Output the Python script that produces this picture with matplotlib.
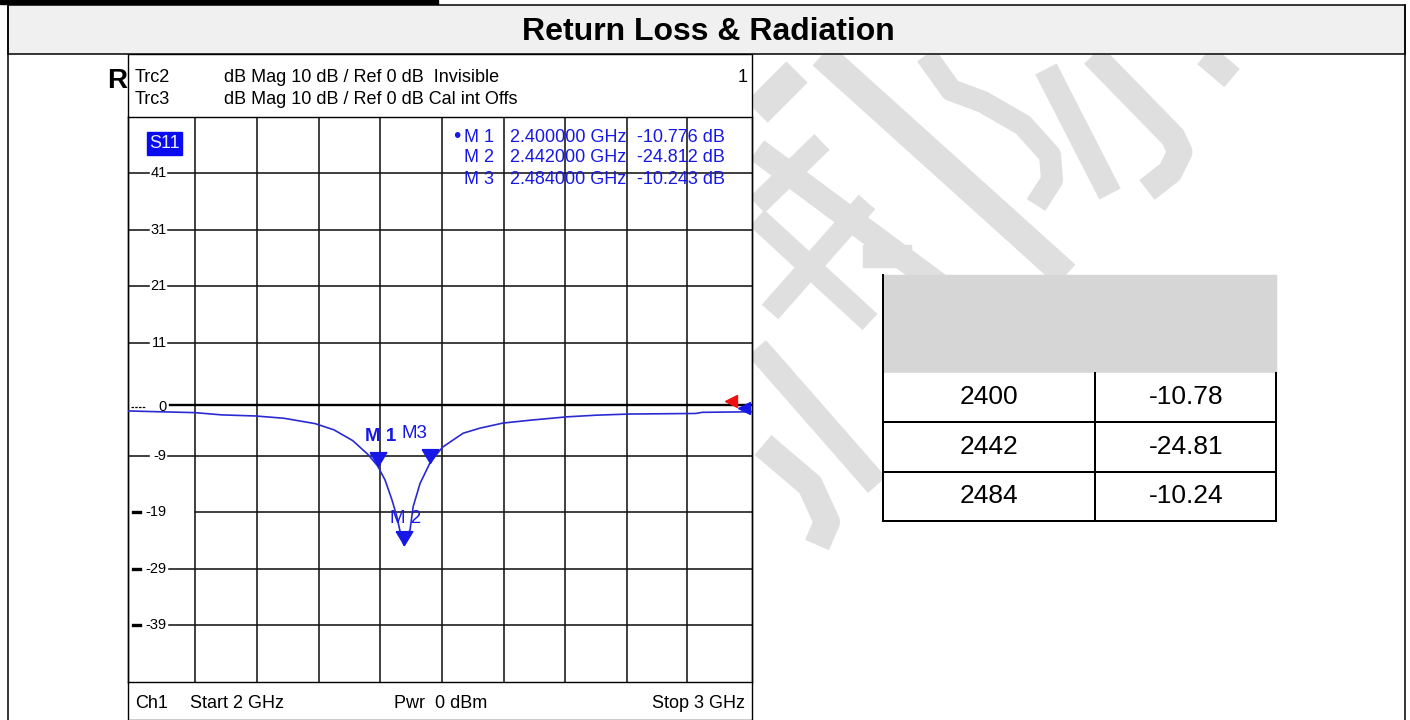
import matplotlib
matplotlib.use("Agg")
import matplotlib.pyplot as plt
from matplotlib.path import Path
from matplotlib.patches import Rectangle

plt.rcParams['font.family'] = ['Liberation Sans', 'DejaVu Sans']

# S11 trace (GHz, dB)
freq_ghz = [2.000, 2.050, 2.107, 2.150, 2.205, 2.250, 2.300, 2.330, 2.360, 2.385,
            2.400, 2.412, 2.423, 2.431, 2.436, 2.442, 2.446, 2.452, 2.457, 2.468,
            2.484, 2.500, 2.505, 2.537, 2.564, 2.601, 2.644, 2.703, 2.751, 2.804,
            2.910, 2.920, 3.000]
s11_db = [-1.05, -1.2, -1.35, -1.75, -1.95, -2.35, -3.3, -4.4, -6.3, -8.8,
          -10.78, -13.3, -16.8, -19.8, -22.4, -24.81, -23.8, -22.1, -18.0, -13.9,
          -10.24, -8.0, -7.4, -5.0, -4.1, -3.2, -2.7, -2.1, -1.8, -1.6,
          -1.5, -1.3, -1.2]

marker_names = ['M 1', 'M 2', 'M 3']
marker_tags = ['M 1', 'M 2', 'M3']
marker_ghz = [2.400, 2.442, 2.484]
marker_db = [-10.776, -24.812, -10.243]

table_mhz = ['2400', '2442', '2484']
table_db = ['-10.78', '-24.81', '-10.24']

grid_db = [41, 31, 21, 11, -9, -19, -29, -39]
vgrid_ghz = [2.108, 2.206, 2.306, 2.404, 2.503, 2.602, 2.700, 2.800, 2.896]

BLUE = '#1717e6'
WM = '#dfdfdf'
PX = 72 / 100.0   # points per pixel

fig = plt.figure(figsize=(14.1, 7.2), dpi=100)
fig.patch.set_facecolor('white')

# page layer in pixel units
bg = fig.add_axes([0, 0, 1, 1])
bg.set_xlim(0, 1410)
bg.set_ylim(720, 0)
bg.axis('off')

# watermark strokes (rough copy of the logo behind the report)
clip = Rectangle((753, 55), 651, 665, transform=bg.transData)
strokes = [
    ([822, 1066], [55, 275], 28),
    ([757, 797], [112, 72], 30),
    ([757, 1000], [150, 330], 24),
    ([822, 757], [142, 205], 22),
    ([867, 770], [202, 312], 22),
    ([757, 870], [218, 322], 22),
    ([757, 877], [348, 485], 24),
    ([763, 810, 827, 817], [445, 485, 522, 545], 26),
    ([926, 951, 983, 1023, 1050, 1052, 1036], [55, 90, 102, 125, 155, 180, 205], 22),
    ([1046, 1110], [69, 194], 24),
    ([1093, 1173, 1180, 1170, 1147], [55, 137, 152, 172, 190], 25),
    ([1205, 1232], [55, 78], 24),
]
for xs, ys, w in strokes:
    ln, = bg.plot(xs, ys, color=WM, lw=w * PX, solid_capstyle='butt',
                  solid_joinstyle='round', zorder=1)
    ln.set_clip_path(clip)
bg.add_patch(Rectangle((863, 245), 48, 22, color=WM, zorder=1, clip_path=clip))

# frame, title band and panel
bg.add_patch(Rectangle((0, 0), 438, 3.5, color='black', zorder=5))
bg.add_patch(Rectangle((8, 4.5), 1397, 49.5, facecolor='#f0f0f0',
                       edgecolor='black', lw=1.1, zorder=5))
bg.plot([8, 8], [4.5, 720], color='black', lw=1.1, zorder=5)
bg.plot([1405, 1405], [4.5, 720], color='black', lw=1.1, zorder=5)
bg.add_patch(Rectangle((128, 54), 624, 666, facecolor='white',
                       edgecolor='black', lw=1.0, zorder=3))
bg.text(708, 32, 'Return Loss & Radiation', ha='center', va='center',
        fontsize=23, fontweight='bold', zorder=6)
bg.text(127, 81, 'R', ha='right', va='center', fontsize=20,
        fontweight='bold', zorder=6)

# trace header
hfs = 13
bg.text(135, 77, 'Trc2', ha='left', va='center', fontsize=hfs, zorder=6)
bg.text(135, 100, 'Trc3', ha='left', va='center', fontsize=hfs, zorder=6)
bg.text(224, 77, 'dB Mag 10 dB / Ref 0 dB  Invisible', ha='left', va='center',
        fontsize=hfs, zorder=6)
bg.text(224, 100, 'dB Mag 10 dB / Ref 0 dB Cal int Offs', ha='left', va='center',
        fontsize=hfs, zorder=6)
bg.text(748, 77, '1', ha='right', va='center', fontsize=hfs, zorder=6)

# footer
bg.text(135, 703, 'Ch1', ha='left', va='center', fontsize=hfs, zorder=6)
bg.text(190, 703, 'Start 2 GHz', ha='left', va='center', fontsize=hfs, zorder=6)
bg.text(394, 703, 'Pwr  0 dBm', ha='left', va='center', fontsize=hfs, zorder=6)
bg.text(745, 703, 'Stop 3 GHz', ha='right', va='center', fontsize=hfs, zorder=6)

# marker table on the right
bg.add_patch(Rectangle((883, 275), 393, 98, color='#d6d6d6', zorder=4))
tlw = 2 * PX
bg.plot([883, 883], [275, 521], color='black', lw=tlw, zorder=5)
bg.plot([1276, 1276], [373, 521], color='black', lw=tlw, zorder=5)
bg.plot([1095, 1095], [373, 521], color='black', lw=tlw, zorder=5)
row_edges = [373, 422, 471.5, 521]
for yy in row_edges[1:]:
    bg.add_patch(Rectangle((883, yy - 49.5), 393, 49.5, color='white', zorder=4))
    bg.plot([883, 1276], [yy, yy], color='black', lw=tlw, zorder=5)
for i in range(len(table_mhz)):
    yc = (row_edges[i] + row_edges[i + 1]) / 2
    bg.text(989, yc, table_mhz[i], ha='center', va='center', fontsize=19, zorder=6)
    bg.text(1186, yc, table_db[i], ha='center', va='center', fontsize=19, zorder=6)

# the S11 diagram itself
ax = fig.add_axes([128 / 1410, 1 - 681.7 / 720, 624 / 1410, 564.7 / 720], zorder=7)
ax.set_facecolor('none')
ax.set_xlim(2, 3)
ax.set_ylim(-49, 51)
ax.set_xticks([])
ax.set_yticks([])
for s in ax.spines.values():
    s.set_linewidth(1.0)

gc = '#151515'
glw = 1.15
for g in vgrid_ghz:
    ax.axvline(g, color=gc, lw=glw, zorder=1)
for v in grid_db:
    if v == -19:
        ax.plot([2.108, 3], [v, v], color=gc, lw=glw, zorder=1)
    elif v < -19:
        ax.plot([2.066, 3], [v, v], color=gc, lw=glw, zorder=1)
    else:
        ax.plot([2.0, 2.034], [v, v], color=gc, lw=glw, zorder=1)
        ax.plot([2.064, 3], [v, v], color=gc, lw=glw, zorder=1)
    if v < -9:
        ax.plot([2.008, 2.020], [v, v], color='black', lw=2.4, zorder=1)
    ax.text(2.062, v, str(v), ha='right', va='center', fontsize=10.5, zorder=2)

# reference line and its label
ax.plot([2.068, 3], [0, 0], color='black', lw=1.7, zorder=1)
ax.plot([2.005, 2.028], [-0.3, -0.3], color='black', lw=0.9, ls=(0, (2, 1)), zorder=1)
ax.text(2.062, -0.4, '0', ha='right', va='center', fontsize=10.5, zorder=2)

ax.plot(freq_ghz, s11_db, color='#2a2ad2', lw=1.2, zorder=3)

tri = Path([(-0.6, 1.0), (0.6, 1.0), (0.0, 0.0), (-0.6, 1.0)])
ax.plot(marker_ghz, marker_db, ls='none', marker=tri, ms=20, color=BLUE, zorder=4)
tag_offsets = [(2, 21), (1, 19), (-11, 21)]
for i in range(len(marker_tags)):
    ax.annotate(marker_tags[i], (marker_ghz[i], marker_db[i]), xytext=tag_offsets[i],
                textcoords='offset points', ha='center', va='center', color=BLUE,
                fontsize=13.5, fontweight='bold' if i == 0 else 'normal', zorder=5)

# stimulus arrows at the right edge
ax.plot([0.966], [0.7], marker='<', ms=9, color='#ee1111', ls='none',
        transform=ax.get_yaxis_transform(), clip_on=False, zorder=5)
ax.plot([0.987], [-0.6], marker='<', ms=9, color=BLUE, ls='none',
        transform=ax.get_yaxis_transform(), clip_on=False, zorder=5)

# S11 label and marker readout (pixel layer, drawn over the grid area)
bg2 = fig.add_axes([0, 0, 1, 1], zorder=8)
bg2.set_xlim(0, 1410)
bg2.set_ylim(720, 0)
bg2.axis('off')
bg2.add_patch(Rectangle((147, 132), 35, 23, color='#0a0af0'))
bg2.text(164.5, 143.5, 'S11', ha='center', va='center', fontsize=13, color='#e8ecff')
row_y = [137, 158, 180]
bg2.text(457, row_y[0] - 1, '\u2022', ha='center', va='center', fontsize=15, color=BLUE)
for i in range(len(marker_names)):
    bg2.text(494, row_y[i], marker_names[i], ha='right', va='center',
             fontsize=13, color=BLUE)
    bg2.text(626, row_y[i], '%.6f GHz' % marker_ghz[i], ha='right', va='center',
             fontsize=13, color=BLUE)
    bg2.text(725, row_y[i], '%.3f dB' % marker_db[i], ha='right', va='center',
             fontsize=13, color=BLUE)

fig.savefig('out.png', dpi=100)
